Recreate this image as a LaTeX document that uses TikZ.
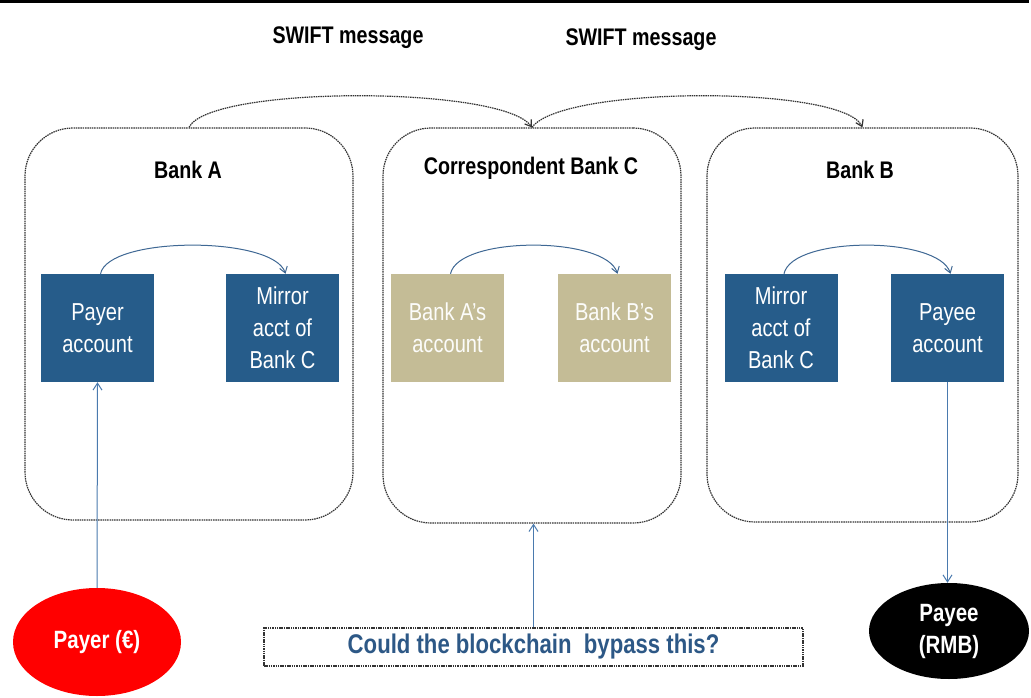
\documentclass[tikz,border=0pt]{standalone}
\usepackage{fontspec}
\setmainfont{Liberation Sans}[FakeStretch=0.82]
\usetikzlibrary{arrows.meta,shapes.geometric}
\definecolor{acctblue}{HTML}{265C8A}
\definecolor{accttan}{HTML}{C4BC96}
\definecolor{linkblue}{HTML}{4A7AAE}
\definecolor{qblue}{HTML}{2D5886}
\begin{document}
\begin{tikzpicture}[x=1pt,y=-1pt,
  dotline/.style={draw=black!80, dash pattern=on 1.5pt off 0.8pt, line width=1.2pt},
  bankbox/.style={dotline, rounded corners=48pt, inner sep=0pt},
  acct/.style={fill=acctblue, text=white, minimum width=113pt, minimum height=108pt, inner sep=0pt, align=center, font=\fontsize{24.5}{32}\selectfont},
  tanacct/.style={acct, fill=accttan, text=white!95!accttan},
  title/.style={font=\fontsize{24}{28}\selectfont\bfseries, inner sep=0pt},
  swiftarc/.style={dotline, -{Straight Barb[length=6pt,width=8pt]}},
  acctarc/.style={draw=linkblue!85!black, line width=1pt, -{Straight Barb[length=6pt,width=8pt]}},
  link/.style={draw=linkblue, line width=1pt, -{Straight Barb[length=7pt,width=9pt]}},
  person/.style={ellipse, inner sep=0pt, text=white, align=center, font=\fontsize{25}{32}\selectfont\bfseries}
]
\useasboundingbox (0,0) rectangle (1031,698);
% top rule
\draw[line width=3pt] (0,2) -- (1029,2);

% bank boxes
\node[bankbox, minimum width=328pt, minimum height=392pt] (bankA) at (189,324) {};
\node[bankbox, minimum width=298pt, minimum height=395pt] (bankC) at (532,325.5) {};
\node[bankbox, minimum width=311pt, minimum height=394pt] (bankB) at (862.5,325) {};

\node[title] (tA) at (188,170) {Bank A};
\node[title] (tC) at (531,168) {Correspondent Bank C};
\node[title] (tB) at (860,170) {Bank B};

% SWIFT labels
\node[title] (sw1) at (348,38) {SWIFT message};
\node[title] (sw2) at (641,40) {SWIFT message};

% accounts
\node[acct] (payeracct) at (97.5,328) {Payer\\account};
\node[acct] (mirrorA) at (282.5,328) {Mirror\\acct of\\Bank C};
\node[tanacct] (bankAacct) at (447.5,328) {Bank A’s\\account};
\node[tanacct] (bankBacct) at (614.5,328) {Bank B’s\\account};
\node[acct] (mirrorB) at (781,328) {Mirror\\acct of\\Bank C};
\node[acct] (payeeacct) at (947.5,328) {Payee\\account};

% inner arcs
\draw[acctarc] ([xshift=3pt]payeracct.north) .. controls +(8,-38) and +(-12,-38) .. ([xshift=3pt]mirrorA.north);
\draw[acctarc] ([xshift=3pt]bankAacct.north) .. controls +(8,-38) and +(-12,-38) .. ([xshift=3pt]bankBacct.north);
\draw[acctarc] ([xshift=3pt]mirrorB.north) .. controls +(8,-38) and +(-12,-38) .. ([xshift=3pt]payeeacct.north);

% SWIFT arcs
\draw[swiftarc] (bankA.north) .. controls +(20,-42) and +(-30,-42) .. (bankC.north);
\draw[swiftarc] (bankC.north) .. controls +(30,-42) and +(-20,-42) .. (bankB.north);

% payer / payee
\node[person, fill=red, minimum width=168pt, minimum height=108pt] (payer) at (97,642) {Payer (€)};
\node[person, fill=black, minimum width=160pt, minimum height=96pt] (payee) at (949,631) {Payee\\(RMB)};

% question box
\node[dotline, minimum width=539pt, minimum height=38pt, inner sep=0pt,
      text=qblue, font=\fontsize{27}{30}\selectfont\bfseries] (q) at (533.5,647) {Could the blockchain\ \ bypass this?};

% connectors
\draw[link] (payer.north) -- (payeracct.south);
\draw[link] (payeeacct.south) -- (payeeacct.south |- payee.north);
\draw[link] (q.north) -- (q.north |- bankC.south);
\end{tikzpicture}
\end{document}
